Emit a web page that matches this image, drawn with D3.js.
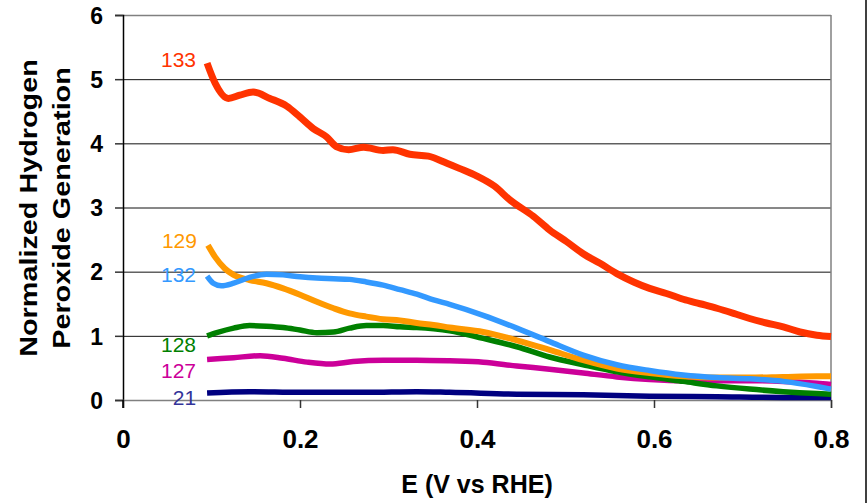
<!DOCTYPE html>
<html>
<head>
<meta charset="utf-8">
<script src="https://cdn.jsdelivr.net/npm/d3@7"></script>
<style>
  body { margin: 0; background: #fff; }
  text { font-family: "Liberation Sans", Arial, sans-serif; }
</style>
</head>
<body>
<div id="chart"></div>
<script>
// series names (sample numbers) and colours
var names = ["21", "127", "128", "129", "132", "133"];
var colors = ["#000080", "#CC0099", "#008000", "#FF9900", "#3399FF", "#FF3300"];
var labelColors = ["#333399", "#CC0099", "#008000", "#FF9900", "#3399FF", "#FF3300"];
// value where each label sits (label baseline)
var labelAt = [-0.08, 0.34, 0.75, 2.37, 1.84, 5.19];

var yTicks = [0, 1, 2, 3, 4, 5, 6];
var xTicks = [0, 0.2, 0.4, 0.6, 0.8];

// E (V vs RHE), normalized H2O2 generation
var s21 = [[0.095,0.11],[0.143,0.13],[0.2,0.12],[0.275,0.12],[0.332,0.13],[0.369,0.12],
  [0.445,0.09],[0.52,0.08],[0.595,0.06],[0.671,0.05],[0.746,0.04],[0.8,0.04]];
var s127 = [[0.095,0.63],[0.125,0.66],[0.155,0.69],[0.181,0.65],[0.208,0.59],[0.234,0.56],
  [0.26,0.6],[0.294,0.62],[0.332,0.62],[0.369,0.61],[0.407,0.59],[0.445,0.53],[0.482,0.48],
  [0.52,0.42],[0.558,0.36],[0.595,0.32],[0.633,0.3],[0.671,0.3],[0.708,0.3],[0.746,0.29],
  [0.784,0.26],[0.8,0.24]];
var s128 = [[0.095,1.0],[0.106,1.05],[0.125,1.12],[0.143,1.16],[0.162,1.15],[0.181,1.13],
  [0.2,1.09],[0.219,1.05],[0.238,1.06],[0.256,1.12],[0.275,1.16],[0.294,1.16],[0.313,1.14],
  [0.332,1.13],[0.351,1.11],[0.369,1.08],[0.407,0.96],[0.445,0.83],[0.482,0.67],[0.52,0.55],
  [0.558,0.44],[0.595,0.36],[0.633,0.29],[0.671,0.22],[0.708,0.17],[0.746,0.13],[0.784,0.1],
  [0.8,0.09]];
var s129 = [[0.096,2.41],[0.104,2.23],[0.115,2.05],[0.125,1.95],[0.143,1.87],[0.162,1.82],
  [0.181,1.74],[0.2,1.64],[0.219,1.53],[0.238,1.43],[0.256,1.35],[0.275,1.3],[0.294,1.26],
  [0.313,1.24],[0.332,1.2],[0.351,1.17],[0.369,1.13],[0.407,1.06],[0.445,0.93],[0.482,0.78],
  [0.52,0.62],[0.558,0.49],[0.595,0.42],[0.633,0.37],[0.671,0.35],[0.708,0.35],[0.746,0.36],
  [0.784,0.37],[0.8,0.37]];
var s132 = [[0.095,1.93],[0.102,1.82],[0.111,1.78],[0.125,1.82],[0.143,1.91],[0.162,1.96],
  [0.181,1.95],[0.2,1.92],[0.219,1.9],[0.238,1.89],[0.256,1.88],[0.275,1.84],[0.294,1.79],
  [0.313,1.72],[0.332,1.65],[0.351,1.56],[0.369,1.49],[0.407,1.32],[0.445,1.12],[0.482,0.91],
  [0.52,0.7],[0.558,0.55],[0.595,0.46],[0.633,0.39],[0.671,0.35],[0.708,0.33],[0.746,0.29],
  [0.784,0.21],[0.8,0.17]];
var s133 = [[0.095,5.25],[0.104,4.94],[0.119,4.7],[0.132,4.75],[0.147,4.8],[0.166,4.7],
  [0.185,4.58],[0.2,4.41],[0.215,4.23],[0.23,4.1],[0.241,3.95],[0.255,3.9],[0.272,3.94],
  [0.294,3.89],[0.305,3.9],[0.324,3.83],[0.345,3.8],[0.366,3.69],[0.38,3.61],[0.4,3.49],
  [0.42,3.33],[0.437,3.12],[0.464,2.86],[0.482,2.65],[0.501,2.47],[0.52,2.28],[0.539,2.13],
  [0.558,1.97],[0.577,1.84],[0.595,1.74],[0.614,1.66],[0.633,1.57],[0.652,1.5],[0.671,1.43],
  [0.69,1.35],[0.708,1.27],[0.727,1.2],[0.746,1.14],[0.765,1.06],[0.784,1.01],[0.8,0.99]];
var allSeries = [s21, s127, s128, s129, s132, s133];
var widths = [5.5, 5.5, 5.5, 6, 5.5, 7];

var W = 867, H = 503;
var margin = {top: 15, right: 36, bottom: 103, left: 123},
    width = W - margin.left - margin.right,
    height = H - margin.top - margin.bottom;

var root = d3.select("#chart").append("svg")
    .attr("width", W)
    .attr("height", H);

// right edge frame line
root.append("line")
    .attr("x1", W - 1).attr("x2", W - 1)
    .attr("y1", 0).attr("y2", H)
    .attr("stroke", "#000").attr("stroke-width", 1.5);

var svg = root.append("g")
    .attr("transform", "translate(" + margin.left + "," + margin.top + ")");

var x = d3.scaleLinear().domain([0, 0.8]).range([0, width]);
var y = d3.scaleLinear().domain([0, 6]).range([height, 0]);

// gridlines
svg.selectAll(".grid")
  .data(yTicks.filter(function(d) { return d > 0 && d < 6; }))
  .enter().append("line")
    .attr("x1", 0).attr("x2", width)
    .attr("y1", function(d) { return y(d) + 0.5; })
    .attr("y2", function(d) { return y(d) + 0.5; })
    .attr("stroke", "#111").attr("stroke-width", 1);

// plot frame top / right
svg.append("line")
    .attr("x1", 0).attr("x2", width).attr("y1", 0.5).attr("y2", 0.5)
    .attr("stroke", "#808080").attr("stroke-width", 1.5);
svg.append("line")
    .attr("x1", width).attr("x2", width).attr("y1", 0).attr("y2", height)
    .attr("stroke", "#808080").attr("stroke-width", 1.5);

// Y axis
var yAxis = svg.append("g")
    .call(d3.axisLeft(y).tickValues(yTicks).tickSize(8).tickPadding(12).tickFormat(d3.format("d")));
yAxis.select(".domain").attr("stroke", "#000").attr("stroke-width", 1.5);
yAxis.selectAll(".tick line").attr("stroke", "#333").attr("stroke-width", 1.5);
yAxis.selectAll("text")
    .style("font-size", "23px").style("font-weight", "bold")
    .attr("fill", "#000").attr("dy", "0.36em");

// X axis
var xAxis = svg.append("g")
    .attr("transform", "translate(0," + height + ")")
    .call(d3.axisBottom(x).tickValues(xTicks).tickSize(8).tickPadding(22)
      .tickFormat(function(d) { return d === 0 ? "0" : d3.format(".1f")(d); }));
xAxis.select(".domain").attr("stroke", "#808080").attr("stroke-width", 1.5);
xAxis.selectAll(".tick line").attr("stroke", "#333").attr("stroke-width", 1.5);
xAxis.selectAll("text")
    .style("font-size", "26px").style("font-weight", "bold")
    .attr("fill", "#000");

// left axis extends down a bit below zero
svg.append("line")
    .attr("x1", 0).attr("x2", 0).attr("y1", height).attr("y2", height + 8)
    .attr("stroke", "#000").attr("stroke-width", 1.5);

// lines
var line = d3.line()
    .x(function(d) { return x(d[0]); })
    .y(function(d) { return y(d[1]); })
    .curve(d3.curveMonotoneX);

svg.selectAll(".series")
  .data(allSeries)
  .enter().append("path")
    .attr("fill", "none")
    .attr("stroke", function(d, i) { return colors[i]; })
    .attr("stroke-width", function(d, i) { return widths[i]; })
    .attr("stroke-linejoin", "round")
    .attr("d", line);

// series labels left of each line start
svg.selectAll(".lab")
  .data(names)
  .enter().append("text")
    .attr("x", function(d, i) { return x(allSeries[i][0][0]) - 11; })
    .attr("y", function(d, i) { return y(labelAt[i]); })
    .attr("text-anchor", "end")
    .attr("fill", function(d, i) { return labelColors[i]; })
    .style("font-size", "21px")
    .text(function(d) { return d; });

// axis titles
root.append("text")
    .attr("x", 477).attr("y", 493)
    .attr("text-anchor", "middle")
    .style("font-size", "25px").style("font-weight", "bold")
    .text("E (V vs RHE)");

var yt = root.append("text")
    .attr("transform", "translate(0,208) rotate(-90) scale(1.2,1)")
    .attr("text-anchor", "middle")
    .style("font-size", "24px").style("font-weight", "bold");
yt.append("tspan").attr("x", 0).attr("y", 37).text("Normalized Hydrogen");
yt.append("tspan").attr("x", 0).attr("y", 70).text("Peroxide Generation");
</script>
</body>
</html>
